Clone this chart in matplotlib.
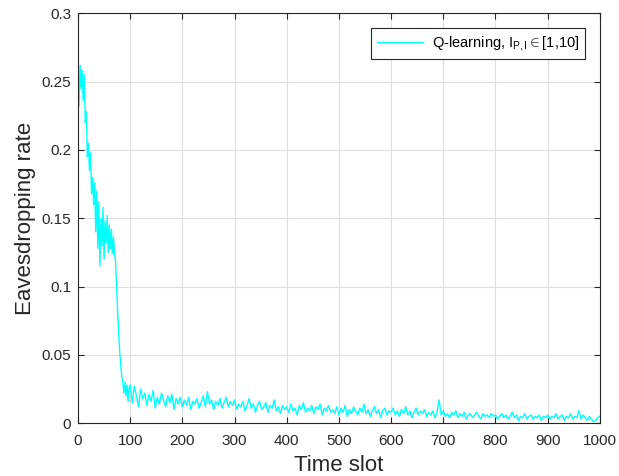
import numpy as np
import matplotlib.pyplot as plt

plt.rcParams['font.family'] = ['Liberation Sans', 'DejaVu Sans']
plt.rcParams['mathtext.fontset'] = 'custom'
plt.rcParams['mathtext.rm'] = 'Liberation Sans'
plt.rcParams['mathtext.it'] = 'Liberation Sans:italic'

# eavesdropping rate
# first 100 slots every 2 slots, rest every 4 slots
early_slots = np.arange(0, 100, 2)
early_rate = [
    0.265, 0.232, 0.262, 0.245, 0.258, 0.236, 0.255, 0.220, 0.228, 0.195,
    0.205, 0.185, 0.198, 0.168, 0.180, 0.160, 0.176, 0.140, 0.170, 0.128,
    0.162, 0.115, 0.150, 0.130, 0.158, 0.120, 0.148, 0.132, 0.152, 0.125,
    0.145, 0.128, 0.142, 0.124, 0.136, 0.125, 0.118, 0.100, 0.082, 0.066,
    0.052, 0.042, 0.034, 0.030, 0.022, 0.030, 0.020, 0.028, 0.016, 0.026,
]
late_slots = np.arange(100, 1001, 4)
late_rate = [
    # 100 - 196
    0.028, 0.015, 0.027, 0.020, 0.012, 0.025, 0.018, 0.022, 0.013, 0.021,
    0.016, 0.024, 0.011, 0.019, 0.014, 0.022, 0.017, 0.012, 0.020, 0.015,
    0.021, 0.010, 0.018, 0.014, 0.019,
    # 200 - 296
    0.012, 0.017, 0.013, 0.019, 0.010, 0.016, 0.014, 0.018, 0.011, 0.015,
    0.020, 0.012, 0.023, 0.014, 0.017, 0.010, 0.016, 0.013, 0.018, 0.011,
    0.015, 0.019, 0.012, 0.016, 0.013,
    # 300 - 396
    0.017, 0.010, 0.014, 0.012, 0.016, 0.009, 0.013, 0.018, 0.011, 0.014,
    0.008, 0.013, 0.016, 0.010, 0.012, 0.015, 0.008, 0.013, 0.011, 0.017,
    0.009, 0.012, 0.007, 0.013, 0.010,
    # 400 - 496
    0.012, 0.008, 0.014, 0.009, 0.011, 0.006, 0.013, 0.010, 0.015, 0.008,
    0.011, 0.009, 0.013, 0.007, 0.012, 0.010, 0.014, 0.006, 0.011, 0.009,
    0.013, 0.008, 0.010, 0.007, 0.012,
    # 500 - 596
    0.006, 0.011, 0.008, 0.013, 0.005, 0.010, 0.007, 0.012, 0.009, 0.006,
    0.011, 0.008, 0.014, 0.007, 0.010, 0.005, 0.009, 0.012, 0.007, 0.010,
    0.004, 0.009, 0.011, 0.006, 0.009,
    # 600 - 696
    0.008, 0.011, 0.006, 0.009, 0.005, 0.010, 0.007, 0.012, 0.006, 0.009,
    0.004, 0.008, 0.011, 0.006, 0.009, 0.007, 0.010, 0.005, 0.008, 0.006,
    0.009, 0.004, 0.008, 0.017, 0.006,
    # 700 - 796
    0.009, 0.005, 0.007, 0.004, 0.008, 0.006, 0.009, 0.004, 0.007, 0.005,
    0.008, 0.003, 0.006, 0.007, 0.004, 0.006, 0.008, 0.005, 0.003, 0.007,
    0.005, 0.006, 0.004, 0.007, 0.005,
    # 800 - 896
    0.006, 0.003, 0.005, 0.007, 0.004, 0.006, 0.003, 0.005, 0.008, 0.004,
    0.006, 0.002, 0.005, 0.004, 0.007, 0.003, 0.005, 0.006, 0.003, 0.005,
    0.004, 0.006, 0.002, 0.005, 0.004,
    # 900 - 1000
    0.006, 0.003, 0.005, 0.004, 0.007, 0.003, 0.005, 0.006, 0.002, 0.005,
    0.004, 0.007, 0.003, 0.005, 0.004, 0.009, 0.003, 0.006, 0.004, 0.002,
    0.005, 0.003, 0.001, 0.002, 0.004, 0.005,
]
slots = np.concatenate([early_slots, late_slots])
rate = np.concatenate([early_rate, late_rate])

fig = plt.figure(figsize=(6.19, 4.76), dpi=100)
ax = fig.add_axes([0.126, 0.111, 0.843, 0.861])

ax.plot(slots, rate, color='#00ffff', lw=1.0,
        label=r'Q-learning, I$_{\mathrm{P,I}}$$\in$[1,10]')

ax.set_xlim(0, 1000)
ax.set_ylim(0, 0.3)
ax.set_xticks(np.arange(0, 1001, 100))
ax.set_yticks(np.arange(0, 0.31, 0.05))
ax.set_yticklabels(['0', '0.05', '0.1', '0.15', '0.2', '0.25', '0.3'])
ax.grid(True, color='#dedede', lw=0.8)
ax.set_axisbelow(True)
ax.tick_params(direction='in', labelsize=11, length=4, color='#262626',
               top=True, right=True, labelcolor='#262626')
ax.tick_params(axis='x', pad=8)
ax.tick_params(axis='y', pad=5)
for s in ax.spines.values():
    s.set_color('#262626')
    s.set_linewidth(0.8)

ax.set_xlabel('Time slot', fontsize=16, color='#262626', labelpad=5)
ax.set_ylabel('Eavesdropping rate', fontsize=16, color='#262626', labelpad=4)

leg = ax.legend(loc='upper right', fontsize=10.5, fancybox=False,
                framealpha=1, edgecolor='#262626', handlelength=3.2,
                handletextpad=0.6, borderaxespad=1.0)
leg.get_frame().set_linewidth(0.8)

fig.savefig('out.png', dpi=100)
